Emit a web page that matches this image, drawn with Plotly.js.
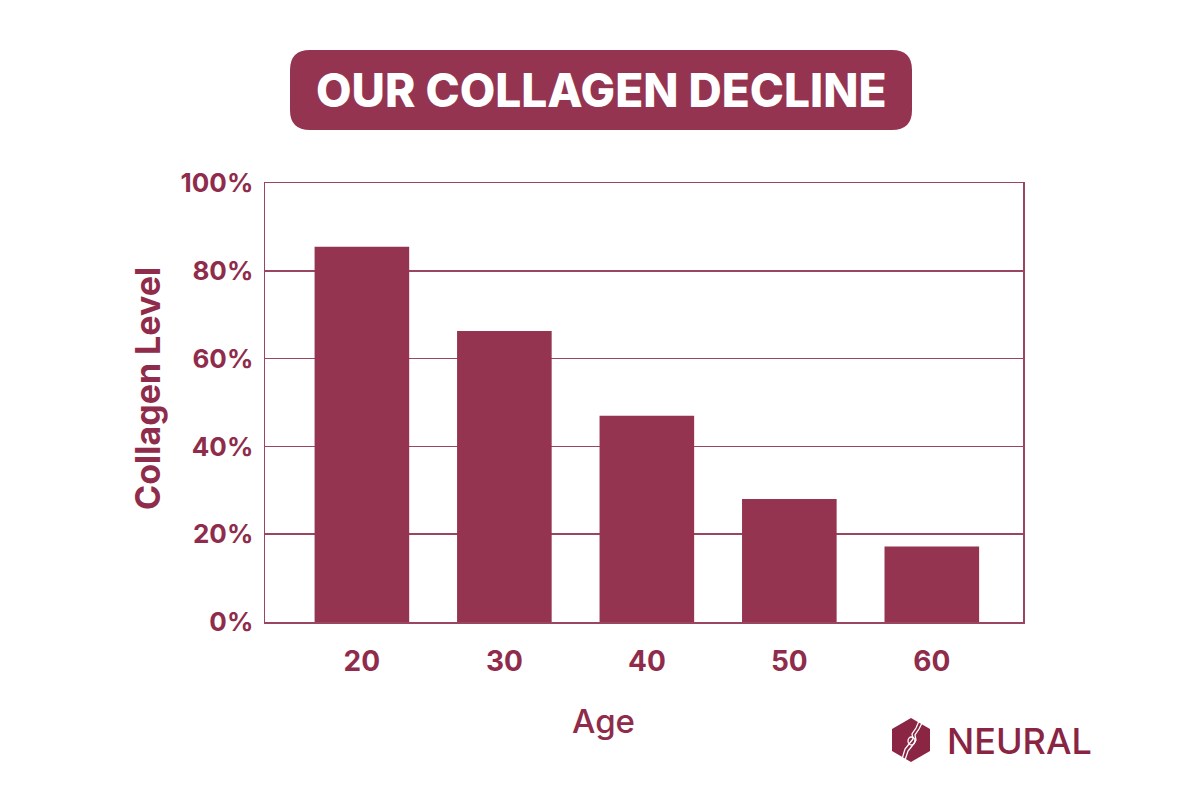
<!DOCTYPE html>
<html>
<head>
<meta charset="utf-8">
<script src="https://cdn.plot.ly/plotly-3.0.1.min.js"></script>
<style>html,body{margin:0;padding:0;background:#fff;}#chart{width:1200px;height:800px;}</style>
</head>
<body>
<div id="chart"></div>
<script>
// Data
const ages = [20, 30, 40, 50, 60];
const collagenLevels = [85.5, 66.3, 47, 28, 17.2];
const yTickVals = [0, 20, 40, 60, 80, 100];
const yTickText = ['0%', '20%', '40%', '60%', '80%', '100%'];
const titleText = 'OUR COLLAGEN DECLINE';
const xTitleText = 'Age';
const yTitleText = 'Collagen Level';
const brandText = 'NEURAL';

const BAR = '#953451';
const TEXT = '#8f2c4b';
const LINE = '#9a4661';
const FONT = 'Inter, "Open Sans", sans-serif';

const M = {l: 265, r: 177, t: 183, b: 178};
const PW = 1200 - M.l - M.r, PH = 800 - M.t - M.b;
const px = x => (x - M.l) / PW;
const py = y => (800 - M.b - y) / PH;

function roundRect(x0, y0, x1, y1, r) {
  const P = (x, y) => px(x).toFixed(5) + ',' + py(y).toFixed(5);
  return 'M' + P(x0 + r, y0) + ' L' + P(x1 - r, y0) + ' Q' + P(x1, y0) + ' ' + P(x1, y0 + r) +
    ' L' + P(x1, y1 - r) + ' Q' + P(x1, y1) + ' ' + P(x1 - r, y1) +
    ' L' + P(x0 + r, y1) + ' Q' + P(x0, y1) + ' ' + P(x0, y1 - r) +
    ' L' + P(x0, y0 + r) + ' Q' + P(x0, y0) + ' ' + P(x0 + r, y0) + ' Z';
}
function poly(pts) {
  return 'M' + pts.map(p => px(p[0]).toFixed(5) + ',' + py(p[1]).toFixed(5)).join(' L') + ' Z';
}
function line(pts) {
  return 'M' + pts.map(p => px(p[0]).toFixed(5) + ',' + py(p[1]).toFixed(5)).join(' L');
}

const hex = [[911, 718], [930, 729], [930, 751], [911, 762], [892, 751], [892, 729]];

const trace = {
  type: 'bar',
  x: ages,
  y: collagenLevels,
  width: 6.64,
  marker: {color: BAR, line: {width: 0}},
  hoverinfo: 'skip'
};

const layout = {
  width: 1200, height: 800,
  margin: {l: M.l, r: M.r, t: M.t, b: M.b, pad: 0},
  paper_bgcolor: '#ffffff', plot_bgcolor: '#ffffff',
  showlegend: false,
  font: {family: FONT, color: TEXT},
  xaxis: {
    range: [13.2, 66.4], tickvals: ages, ticktext: ages.map(String),
    showgrid: false, zeroline: false, showline: true, mirror: true,
    linecolor: LINE, linewidth: 1.5, ticks: '', ticklabelstandoff: 14,
    tickfont: {family: FONT, size: 28, weight: 700, color: TEXT}, fixedrange: true
  },
  yaxis: {
    range: [0, 100], tickvals: yTickVals, ticktext: yTickText,
    showgrid: true, gridcolor: LINE, gridwidth: 1.5, zeroline: false,
    showline: true, mirror: true, linecolor: LINE, linewidth: 1.5,
    ticks: '', ticklabelstandoff: 5,
    tickfont: {family: FONT, size: 26, weight: 700, color: TEXT}, fixedrange: true
  },
  shapes: [
    {type: 'path', xref: 'paper', yref: 'paper', path: roundRect(290, 50, 912, 130, 20),
      fillcolor: BAR, line: {width: 0}, layer: 'above'},
    {type: 'path', xref: 'paper', yref: 'paper', path: poly(hex),
      fillcolor: '#8a2543', line: {width: 0}, layer: 'above'},
    {type: 'path', xref: 'paper', yref: 'paper',
      path: line([[919, 721], [916, 728], [912, 734], [913, 739], [909, 744], [905, 749], [902, 759]]),
      line: {color: '#ffffff', width: 1.3}, layer: 'above'},
    {type: 'path', xref: 'paper', yref: 'paper',
      path: line([[922, 723], [919, 729], [915, 735], [916, 740], [912, 746], [908, 751], [905, 760]]),
      line: {color: '#ffffff', width: 1.3}, layer: 'above'},
    {type: 'circle', xref: 'paper', yref: 'paper', x0: px(908), x1: px(915), y0: py(745), y1: py(737),
      line: {color: '#ffffff', width: 1.3}, fillcolor: 'rgba(0,0,0,0)', layer: 'above'}
  ],
  annotations: [
    {text: titleText, xref: 'paper', yref: 'paper', x: px(601), y: py(90), xanchor: 'center', yanchor: 'middle',
      showarrow: false, font: {family: FONT, size: 46, weight: 800, color: '#ffffff'}},
    {text: xTitleText, xref: 'paper', yref: 'paper', x: px(603), y: py(721), xanchor: 'center', yanchor: 'middle',
      showarrow: false, font: {family: FONT, size: 33, weight: 500, color: TEXT}},
    {text: yTitleText, xref: 'paper', yref: 'paper', x: px(147), y: py(389), xanchor: 'center', yanchor: 'middle',
      textangle: -90, showarrow: false, font: {family: FONT, size: 34, weight: 700, color: TEXT}},
    {text: brandText, xref: 'paper', yref: 'paper', x: px(945), y: py(741), xanchor: 'left', yanchor: 'middle',
      showarrow: false, font: {family: FONT, size: 36, weight: 500, color: '#8a2443'}}
  ]
};

Plotly.newPlot('chart', [trace], layout, {displayModeBar: false, staticPlot: true});
</script>
</body>
</html>
